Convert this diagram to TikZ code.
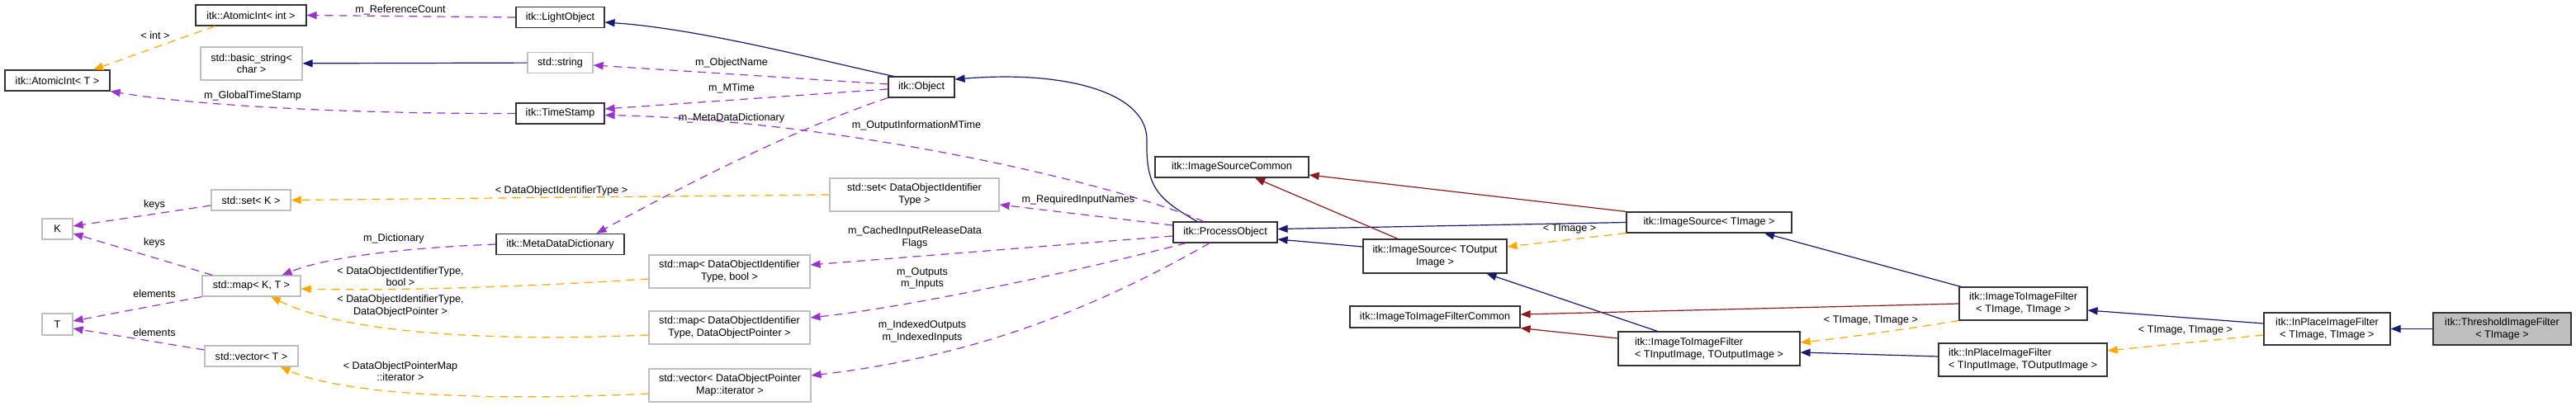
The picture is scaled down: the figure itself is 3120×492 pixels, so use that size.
\documentclass[tikz,border=0pt]{standalone}
\usepackage{fontspec}
\setmainfont{Liberation Sans}
\usepackage{tikz}
\usetikzlibrary{arrows.meta}

\definecolor{boxgrey}{HTML}{BFBFBF}
\definecolor{boxline}{HTML}{333333}
\definecolor{edgeblue}{HTML}{191970}
\definecolor{edgered}{HTML}{8B1A1A}
\definecolor{edgeorange}{HTML}{FFA500}
\definecolor{edgepurple}{HTML}{9A32CD}

\begin{document}
\begin{tikzpicture}[x=0.5pt, y=-0.5pt,
    every node/.style={font=\fontsize{6.3}{7.3}\selectfont},
    cls/.style={draw=boxline, line width=0.6pt, fill=white, inner sep=1pt, align=center},
    ext/.style={cls, draw=boxgrey},
    lft/.style={cls, align=left},
    lbl/.style={inner sep=0pt, align=center},
    edge/.style={line width=0.6pt, -{Triangle[length=6pt,width=4.6pt]}},
    inh/.style={edge, edgeblue},
    priv/.style={edge, edgered},
    tmpl/.style={edge, edgeorange, dash pattern=on 5pt off 3.5pt},
    memb/.style={edge, edgepurple, dash pattern=on 5pt off 3.5pt}]

    \useasboundingbox (0,0) rectangle (3120,492);

    % left column
    \node [cls, minimum width=63.5pt, minimum height=12.5pt] (aintT) at (69.5,97.5) {itk::AtomicInt< T >};
    \node [ext, minimum width=18.5pt, minimum height=12.5pt] (K) at (69.5,277.5) {K};
    \node [ext, minimum width=18.5pt, minimum height=13pt] (T) at (69.5,393) {T};

    % templates
    \node [cls, minimum width=67pt, minimum height=12.5pt] (aint) at (304,18.5) {itk::AtomicInt< int >};
    \node [ext, minimum width=61.5pt, minimum height=20pt] (bstr) at (304.5,77) {std::basic\_string<\\char >};
    \node [ext, minimum width=48pt, minimum height=12.5pt] (setK) at (304,242.5) {std::set< K >};
    \node [ext, minimum width=59.5pt, minimum height=12.5pt] (mapKT) at (304.5,346.5) {std::map< K, T >};
    \node [ext, minimum width=56.5pt, minimum height=12.5pt] (vecT) at (304.5,431.5) {std::vector< T >};

    % members of itk::Object
    \node [cls, minimum width=53.5pt, minimum height=12.5pt] (light) at (678.5,21) {itk::LightObject};
    \node [ext, minimum width=39.5pt, minimum height=12.5pt] (str) at (678.5,76) {std::string};
    \node [cls, minimum width=53.5pt, minimum height=12.5pt] (tstamp) at (678.5,137.5) {itk::TimeStamp};
    \node [cls, minimum width=77.5pt, minimum height=12.5pt] (mdd) at (678.5,296) {itk::MetaDataDictionary};

    % members of itk::ProcessObject
    \node [ext, minimum width=102.5pt, minimum height=20pt] (setDOI) at (1107.5,236) {std::set< DataObjectIdentifier\\Type >};
    \node [ext, minimum width=97.5pt, minimum height=20pt] (mapBool) at (883.5,329) {std::map< DataObjectIdentifier\\Type, bool >};
    \node [ext, minimum width=97.5pt, minimum height=20pt] (mapDOP) at (883.5,397) {std::map< DataObjectIdentifier\\Type, DataObjectPointer >};
    \node [ext, minimum width=98pt, minimum height=20pt] (vecDOP) at (884,467) {std::vector< DataObjectPointer\\Map::iterator >};

    \node [cls, minimum width=40pt, minimum height=12.5pt] (obj) at (1116,105.5) {itk::Object};
    \node [cls, minimum width=93pt, minimum height=12.5pt] (isc) at (1492,202.5) {itk::ImageSourceCommon};
    \node [cls, minimum width=63pt, minimum height=12.5pt] (po) at (1484,281.5) {itk::ProcessObject};

    % filters
    \node [cls, minimum width=87pt, minimum height=20.5pt] (isOut) at (1738,310.5) {itk::ImageSource< TOutput\\Image >};
    \node [cls, minimum width=103pt, minimum height=13pt] (iifc) at (1738,384) {itk::ImageToImageFilterCommon};
    \node [cls, minimum width=100pt, minimum height=12.5pt] (isImg) at (2070,269.5) {itk::ImageSource< TImage >};
    \node [lft, minimum width=110pt, minimum height=20.5pt] (iifIO) at (2070,422.5) {itk::ImageToImageFilter\\< TInputImage, TOutputImage >};
    \node [cls, minimum width=77.5pt, minimum height=20pt] (iifImg) at (2450.5,368) {itk::ImageToImageFilter\\< TImage, TImage >};
    \node [lft, minimum width=102pt, minimum height=20pt] (ipfIO) at (2450,436) {itk::InPlaceImageFilter\\< TInputImage, TOutputImage >};
    \node [cls, minimum width=76.5pt, minimum height=19.5pt] (ipfImg) at (2818.5,398.5) {itk::InPlaceImageFilter\\< TImage, TImage >};
    \node [cls, fill=boxgrey, minimum width=83.5pt, minimum height=19.5pt] (thr) at (3030.5,398.5) {itk::ThresholdImageFilter\\< TImage >};

    % inheritance
    \draw [inh] (str) -- (bstr);
    \draw [inh] ([xshift=3.5pt]obj.north west) .. controls (1000,75) and (850,35) .. ([yshift=-3pt]light.east);
    \draw [inh] ([xshift=-17pt]po.north) .. controls (1400,240) and (1388,225) .. (1389,170)
        .. controls (1390,112) and (1290,85) .. (obj.13);
    \draw [inh] (isImg.west) -- ([yshift=2pt]po.east);
    \draw [inh] ([yshift=5.75pt]isOut.west) -- ([yshift=-4.25pt]po.east);
    \draw [inh] (iifIO) -- (isOut);
    \draw [inh] (iifImg) -- ([xshift=33.5pt]isImg.south);
    \draw [inh] ([yshift=2pt]ipfIO.west) -- ([yshift=-2.25pt]iifIO.east);
    \draw [inh] ([yshift=3.25pt]ipfImg.west) -- ([yshift=-4pt]iifImg.east);
    \draw [inh] (thr) -- (ipfImg);

    % private
    \draw [priv] ([xshift=-22.5pt]isOut.north) -- ([xshift=14pt]isc.south);
    \draw [priv] (isImg.north west) -- ([yshift=-4.75pt]isc.east);
    \draw [priv] (iifImg.west) -- ([yshift=1.5pt]iifc.east);
    \draw [priv] ([yshift=6.25pt]iifIO.west) -- (iifc.south east);

    % template instances
    \draw [tmpl] ([xshift=12pt]aint.south west) -- ([xshift=21.75pt]aintT.north);
    \draw [tmpl] (setDOI.west) -- (setK.east);
    \draw [tmpl] ([yshift=-4.5pt]mapBool.west) .. controls (600,350) and (450,352) .. ([yshift=-1.75pt]mapKT.east);
    \draw [tmpl] ([yshift=-4.5pt]mapDOP.west) .. controls (600,414) and (420,405) .. ([xshift=11.75pt]mapKT.south);
    \draw [tmpl] ([yshift=-5pt]vecDOP.west) .. controls (600,486) and (420,480) .. ([xshift=17.5pt]vecT.south);
    \draw [tmpl] (isImg.south west) -- ([yshift=5.75pt]isOut.east);
    \draw [tmpl] (iifImg.south west) .. controls (2300,400) and (2230,410) .. ([yshift=3.75pt]iifIO.east);
    \draw [tmpl] ([yshift=-3.75pt]ipfImg.west) -- ([yshift=5.5pt]ipfIO.east);

    % members
    \draw [memb] (light.west) -- (aint.east);
    \draw [memb] (tstamp.west) .. controls (450,138) and (250,130) .. (aintT.south east);
    \draw [memb] ([yshift=1.75pt]obj.west) -- ([yshift=-1.5pt]str.east);
    \draw [memb] ([yshift=-1.25pt]obj.west) -- ([yshift=2.75pt]tstamp.east);
    \draw [memb] (obj.south west) .. controls (950,160) and (800,240) .. ([xshift=22pt]mdd.north);
    \draw [memb] ([xshift=-13pt]po.north) .. controls (1330,215) and (1000,145) .. ([yshift=-1pt]tstamp.east);
    \draw [memb] ([yshift=4.25pt]po.west) -- ([yshift=-6pt]setDOI.east);
    \draw [memb] ([yshift=-2.25pt]po.west) -- ([yshift=4pt]mapBool.east);
    \draw [memb] ([xshift=8pt]po.south west) .. controls (1300,330) and (1100,372) .. ([yshift=6pt]mapDOP.east);
    \draw [memb] ([xshift=-9.5pt]po.south) .. controls (1350,360) and (1200,430) .. ([yshift=6pt]vecDOP.east);
    \draw [memb] (mdd.west) .. controls (500,300) and (400,310) .. ([xshift=18.5pt]mapKT.north);
    \draw [memb] ([yshift=-3.25pt]setK.west) -- ([yshift=1.75pt]K.east);
    \draw [memb] ([xshift=6.5pt]mapKT.north west) -- ([yshift=-2.75pt]K.east);
    \draw [memb] (mapKT.south west) -- ([yshift=2pt]T.east);
    \draw [memb] ([yshift=3.75pt]vecT.west) -- ([yshift=-2.5pt]T.east);

    % labels
    \node [lbl] (lint) at (188,43) {< int >};
    \node [lbl] (lref) at (485,12) {m\_ReferenceCount};
    \node [lbl] (lgts) at (306,116) {m\_GlobalTimeStamp};
    \node [lbl] (lname) at (886,76) {m\_ObjectName};
    \node [lbl] (lmtime) at (886,107) {m\_MTime};
    \node [lbl] (lmdd) at (886,143) {m\_MetaDataDictionary};
    \node [lbl] (loimt) at (1110,152) {m\_OutputInformationMTime};
    \node [lbl] (ldoit) at (680,231) {< DataObjectIdentifierType >};
    \node [lbl] (lreq) at (1306,242) {m\_RequiredInputNames};
    \node [lbl] (ldict) at (477,289) {m\_Dictionary};
    \node [lbl] (lkeys) at (187,248) {keys};
    \node [lbl] (lkeysb) at (187,294) {keys};
    \node [lbl] (lelem) at (187,356) {elements};
    \node [lbl] (lelemb) at (187,403) {elements};
    \node [lbl] (lbool) at (485,335) {< DataObjectIdentifierType,\\bool >};
    \node [lbl] (ldop) at (485,370.5) {< DataObjectIdentifierType,\\DataObjectPointer >};
    \node [lbl] (liter) at (485,450) {< DataObjectPointerMap\\::iterator >};
    \node [lbl] (lcache) at (1108,288) {m\_CachedInputReleaseData\\Flags};
    \node [lbl] (lio) at (1117,337.5) {m\_Outputs\\m\_Inputs};
    \node [lbl] (lidx) at (1117,401.5) {m\_IndexedOutputs\\m\_IndexedInputs};
    \node [lbl] (ltimg) at (1901,277) {< TImage >};
    \node [lbl] (ltt) at (2266,388) {< TImage, TImage >};
    \node [lbl] (lttb) at (2647,400) {< TImage, TImage >};

\end{tikzpicture}
\end{document}
